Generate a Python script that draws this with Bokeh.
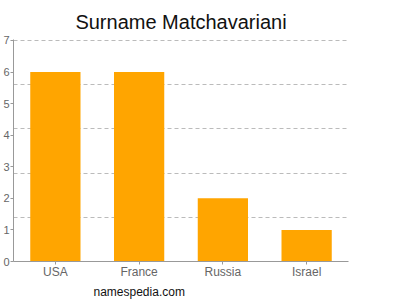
from bokeh.plotting import figure
from bokeh.models import Range1d, FactorRange, FixedTicker, Title, ColumnDataSource
from bokeh.embed import file_html
from bokeh.resources import INLINE

countries = ["USA", "France", "Russia", "Israel"]
counts = [6, 6, 2, 1]
y_ticks = [0, 1, 2, 3, 4, 5, 6, 7]
grid_lines = [1.4, 2.8, 4.2, 5.6, 7.0]
title_text = "Surname Matchavariani"
footer_text = "namespedia.com"

src = ColumnDataSource(dict(country=countries, count=counts))

p = figure(x_range=FactorRange(*countries, range_padding=0), y_range=Range1d(0, 7.03),
           frame_width=335, frame_height=222, output_backend="svg", toolbar_location=None,
           min_border_left=0, min_border_right=52, min_border_top=39, min_border_bottom=39)
p.outline_line_color = None
p.background_fill_color = "white"
p.border_fill_color = "white"

p.vbar(x="country", top="count", width=0.6, source=src, color="#FFA500", line_color=None)

p.xgrid.grid_line_color = None
p.ygrid.ticker = FixedTicker(ticks=grid_lines)
p.ygrid.grid_line_color = "#bbbbbb"
p.ygrid.grid_line_dash = "4 3"
p.ygrid.grid_line_width = 1

p.yaxis.ticker = FixedTicker(ticks=y_ticks)
for ax in (p.xaxis, p.yaxis):
    ax.axis_line_color = "#999999"
    ax.major_tick_line_color = "#999999"
    ax.minor_tick_line_color = None
    ax.major_tick_out = 3
    ax.major_tick_in = 0
    ax.major_label_text_color = "#666666"
    ax.major_label_text_font = "Liberation Sans"
p.yaxis.major_label_text_font_size = "11px"
p.yaxis.major_label_standoff = 1
p.xaxis.major_label_text_font_size = "12px"
p.xaxis.major_label_standoff = 0

p.title.text = title_text
p.title.align = "center"
p.title.vertical_align = "top"
p.title.text_font = "Liberation Sans"
p.title.text_font_size = "20px"
p.title.text_font_style = "normal"
p.title.text_color = "#111111"
p.title.standoff = 10

footer = Title(text=footer_text, align="left", offset=80, text_font="Liberation Sans",
               text_font_size="12px", text_font_style="normal", text_color="#111111", standoff=2)
p.add_layout(footer, "below")

open("out.html", "w").write(file_html(p, INLINE))
